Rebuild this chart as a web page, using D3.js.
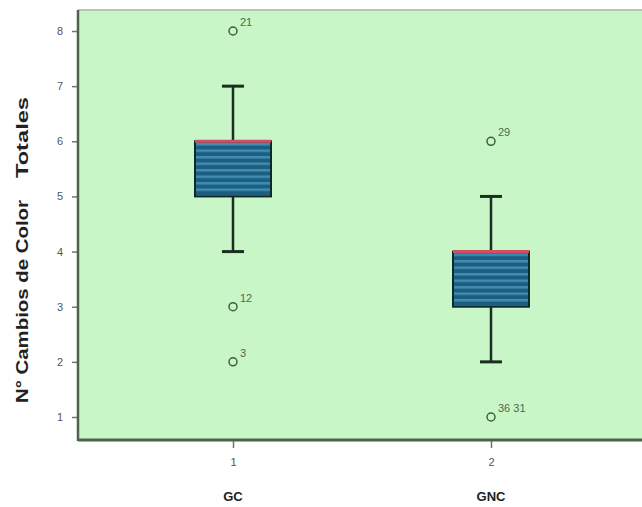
<!DOCTYPE html>
<html>
<head>
<meta charset="utf-8">
<script src="https://cdn.jsdelivr.net/npm/d3@7"></script>
<style>
  body { margin: 0; background: #fff; }
  text { font-family: "Liberation Sans", Arial, sans-serif; }
</style>
</head>
<body>
<div id="chart"></div>
<script>
var width = 642, height = 507;

// data
var categories = ["1", "2"];
var groupNames = ["GC", "GNC"];
var q1 = [5, 3];
var median = [6, 4];
var q3 = [6, 4];
var whiskerLow = [4, 2];
var whiskerHigh = [7, 5];
var outlierGroup = [0, 0, 0, 1, 1];
var outlierValue = [8, 3, 2, 6, 1];
var outlierLabel = ["21", "12", "3", "29", "36 31"];
var yTicks = [1, 2, 3, 4, 5, 6, 7, 8];

var plot = { left: 78, top: 10, right: 660, bottom: 440 };

var x = d3.scalePoint()
    .domain(categories)
    .range([233, 491]);

var y = d3.scaleLinear()
    .domain([0.583, 8.381])
    .range([plot.bottom, plot.top]);

var svg = d3.select("#chart")
    .append("svg")
    .attr("width", width)
    .attr("height", height);

var defs = svg.append("defs");
var pat = defs.append("pattern")
    .attr("id", "stripes")
    .attr("patternUnits", "userSpaceOnUse")
    .attr("width", 8)
    .attr("height", 6.5);
pat.append("rect").attr("width", 8).attr("height", 6.5).attr("fill", "#1d5d7e");
pat.append("rect").attr("y", 0).attr("width", 8).attr("height", 2.5).attr("fill", "#3f8db5");

// plot background
svg.append("rect")
    .attr("x", plot.left)
    .attr("y", plot.top)
    .attr("width", plot.right - plot.left)
    .attr("height", plot.bottom - plot.top)
    .attr("fill", "#c9f6c6");

svg.append("line")
    .attr("x1", plot.left).attr("x2", plot.right)
    .attr("y1", plot.top).attr("y2", plot.top)
    .attr("stroke", "#b3c9b2").attr("stroke-width", 2);

// y axis
var yAxis = d3.axisLeft(y)
    .tickValues(yTicks)
    .tickSize(6)
    .tickPadding(9)
    .tickFormat(d3.format("d"));

var gy = svg.append("g")
    .attr("transform", "translate(" + plot.left + ",0)")
    .call(yAxis);
gy.select(".domain").remove();
gy.selectAll(".tick line").attr("stroke", "#6a7a6a").attr("stroke-width", 1.5);
gy.selectAll(".tick text").attr("fill", "#555").style("font-size", "11px");

// x axis
var xAxis = d3.axisBottom(x)
    .tickSize(8)
    .tickPadding(10);
var gx = svg.append("g")
    .attr("transform", "translate(0," + plot.bottom + ")")
    .call(xAxis);
gx.select(".domain").remove();
gx.selectAll(".tick line").attr("stroke", "#6a7a6a").attr("stroke-width", 1.5);
gx.selectAll(".tick text").attr("fill", "#555").style("font-size", "11px");

// frame lines
svg.append("line")
    .attr("x1", plot.left).attr("x2", plot.left)
    .attr("y1", plot.top).attr("y2", plot.bottom + 1)
    .attr("stroke", "#4d624c").attr("stroke-width", 2.5);
svg.append("line")
    .attr("x1", plot.left).attr("x2", plot.right)
    .attr("y1", plot.bottom).attr("y2", plot.bottom)
    .attr("stroke", "#4d624c").attr("stroke-width", 3);

// group names
svg.selectAll(".gname")
    .data(categories)
    .enter()
    .append("text")
    .attr("class", "gname")
    .attr("x", function(d) { return x(d); })
    .attr("y", 501)
    .attr("text-anchor", "middle")
    .style("font-size", "13px")
    .style("font-weight", "bold")
    .attr("fill", "#222")
    .text(function(d, i) { return groupNames[i]; });

// y title (two pieces, wide gap as in original)
svg.append("text")
    .attr("transform", "translate(28,403) rotate(-90)")
    .attr("text-anchor", "start")
    .style("font-size", "16px")
    .style("font-weight", "bold")
    .attr("fill", "#222")
    .attr("textLength", 203)
    .attr("lengthAdjust", "spacingAndGlyphs")
    .text("N° Cambios de Color");
svg.append("text")
    .attr("transform", "translate(28,178) rotate(-90)")
    .attr("text-anchor", "start")
    .style("font-size", "16px")
    .style("font-weight", "bold")
    .attr("fill", "#222")
    .attr("textLength", 81)
    .attr("lengthAdjust", "spacingAndGlyphs")
    .text("Totales");

var boxW = 76, capW = 22;

var boxes = svg.selectAll(".box")
    .data(categories)
    .enter()
    .append("g")
    .attr("class", "box");

// whiskers
boxes.append("line")
    .attr("x1", function(d) { return x(d); })
    .attr("x2", function(d) { return x(d); })
    .attr("y1", function(d, i) { return y(whiskerHigh[i]); })
    .attr("y2", function(d, i) { return y(whiskerLow[i]); })
    .attr("stroke", "#1c2e22").attr("stroke-width", 2.5);
boxes.append("line")
    .attr("x1", function(d) { return x(d) - capW / 2; })
    .attr("x2", function(d) { return x(d) + capW / 2; })
    .attr("y1", function(d, i) { return y(whiskerHigh[i]); })
    .attr("y2", function(d, i) { return y(whiskerHigh[i]); })
    .attr("stroke", "#1c2e22").attr("stroke-width", 3);
boxes.append("line")
    .attr("x1", function(d) { return x(d) - capW / 2; })
    .attr("x2", function(d) { return x(d) + capW / 2; })
    .attr("y1", function(d, i) { return y(whiskerLow[i]); })
    .attr("y2", function(d, i) { return y(whiskerLow[i]); })
    .attr("stroke", "#1c2e22").attr("stroke-width", 3);

// box
boxes.append("rect")
    .attr("x", function(d) { return x(d) - boxW / 2; })
    .attr("y", function(d, i) { return y(q3[i]); })
    .attr("width", boxW)
    .attr("height", function(d, i) { return y(q1[i]) - y(q3[i]); })
    .attr("fill", "url(#stripes)")
    .attr("stroke", "#0c2a2c").attr("stroke-width", 2);

// median
boxes.append("line")
    .attr("x1", function(d) { return x(d) - boxW / 2; })
    .attr("x2", function(d) { return x(d) + boxW / 2; })
    .attr("y1", function(d, i) { return y(median[i]); })
    .attr("y2", function(d, i) { return y(median[i]); })
    .attr("stroke", "#cf4f63").attr("stroke-width", 3);

// outliers
svg.selectAll(".out")
    .data(outlierValue)
    .enter()
    .append("circle")
    .attr("class", "out")
    .attr("cx", function(d, i) { return x(categories[outlierGroup[i]]); })
    .attr("cy", function(d) { return y(d); })
    .attr("r", 4)
    .attr("fill", "none")
    .attr("stroke", "#3c5f44")
    .attr("stroke-width", 1.5);

svg.selectAll(".outlab")
    .data(outlierValue)
    .enter()
    .append("text")
    .attr("class", "outlab")
    .attr("x", function(d, i) { return x(categories[outlierGroup[i]]) + 7; })
    .attr("y", function(d) { return y(d) - 5; })
    .style("font-size", "11px")
    .attr("fill", "#4a6a50")
    .text(function(d, i) { return outlierLabel[i]; });
</script>
</body>
</html>
